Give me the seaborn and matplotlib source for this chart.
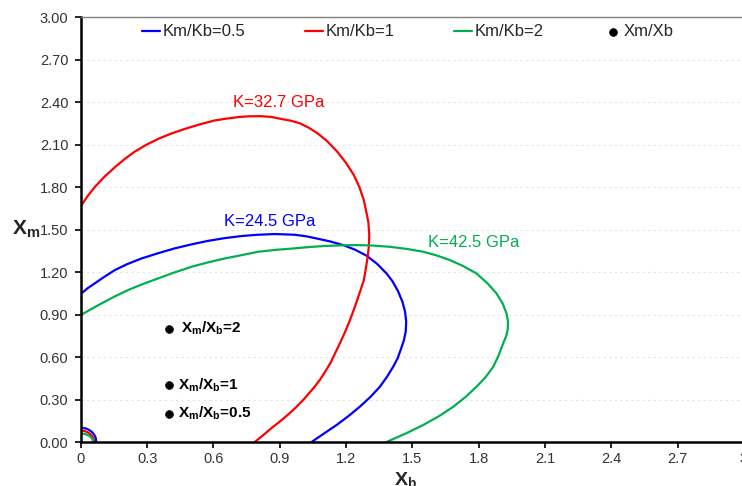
import matplotlib
matplotlib.use("Agg")
import matplotlib.pyplot as plt
import pandas as pd
import seaborn as sns

# curves (Xb, Xm)
blue_x = [0, 0.03, 0.063, 0.105, 0.154, 0.21, 0.275, 0.35, 0.425, 0.5, 0.576, 0.65, 0.727, 0.80,
          0.878, 0.968, 1.02, 1.066, 1.13, 1.187, 1.24, 1.293, 1.34, 1.383, 1.41, 1.435, 1.455,
          1.467, 1.472, 1.47, 1.462, 1.448, 1.433, 1.413, 1.385, 1.353, 1.31, 1.262, 1.21, 1.157,
          1.10, 1.044]
blue_y = [1.045, 1.085, 1.12, 1.165, 1.214, 1.256, 1.296, 1.333, 1.367, 1.395, 1.42, 1.439, 1.454,
          1.463, 1.468, 1.463, 1.452, 1.437, 1.415, 1.39, 1.358, 1.315, 1.258, 1.19, 1.135, 1.065,
          0.99, 0.92, 0.85, 0.78, 0.72, 0.655, 0.59, 0.531, 0.46, 0.39, 0.318, 0.249, 0.182, 0.12,
          0.06, 0]

red_x = [0, 0.03, 0.063, 0.105, 0.154, 0.2, 0.244, 0.295, 0.35, 0.41, 0.47, 0.54, 0.606, 0.66,
         0.72, 0.76, 0.81, 0.86, 0.908, 0.95, 0.99, 1.03, 1.07, 1.11, 1.16, 1.20, 1.235, 1.26,
         1.28, 1.293, 1.301, 1.305, 1.303, 1.298, 1.29, 1.28, 1.265, 1.25, 1.233, 1.215, 1.195,
         1.172, 1.15, 1.13, 1.105, 1.081, 1.055, 1.03, 1.003, 0.976, 0.948, 0.92, 0.895, 0.87,
         0.83, 0.787]
red_y = [1.665, 1.735, 1.80, 1.87, 1.94, 2.0, 2.05, 2.097, 2.14, 2.178, 2.21, 2.243, 2.27, 2.283,
         2.295, 2.299, 2.30, 2.295, 2.28, 2.268, 2.25, 2.22, 2.18, 2.13, 2.05, 1.97, 1.885, 1.80,
         1.71, 1.614, 1.55, 1.46, 1.38, 1.31, 1.23, 1.14, 1.07, 1.00, 0.925, 0.85, 0.775, 0.697,
         0.625, 0.56, 0.495, 0.4375, 0.385, 0.34, 0.292, 0.249, 0.208, 0.17, 0.138, 0.108, 0.055,
         0]

green_x = [0, 0.045, 0.094, 0.15, 0.214, 0.28, 0.35, 0.42, 0.5, 0.575, 0.652, 0.73, 0.802, 0.885,
           0.968, 1.03, 1.096, 1.17, 1.247, 1.32, 1.398, 1.475, 1.549, 1.61, 1.67, 1.73, 1.79,
           1.84, 1.88, 1.908, 1.926, 1.933, 1.932, 1.925, 1.911, 1.89, 1.866, 1.83, 1.79, 1.74,
           1.685, 1.62, 1.549, 1.47, 1.383]
green_y = [0.896, 0.937, 0.979, 1.025, 1.073, 1.115, 1.155, 1.195, 1.237, 1.268, 1.296, 1.32,
           1.343, 1.357, 1.367, 1.376, 1.383, 1.388, 1.39, 1.387, 1.378, 1.363, 1.343, 1.317,
           1.284, 1.242, 1.19, 1.12, 1.05, 0.98, 0.908, 0.85, 0.80, 0.75, 0.697, 0.61, 0.531,
           0.455, 0.39, 0.317, 0.249, 0.182, 0.12, 0.06, 0]

# the tiny arcs at the origin
small_blue_x = [0, 0.02, 0.035, 0.05, 0.061, 0.067, 0.07]
small_blue_y = [0.10, 0.097, 0.087, 0.071, 0.05, 0.03, 0]
small_red_x = [0, 0.017, 0.03, 0.042, 0.052, 0.057, 0.06]
small_red_y = [0.08, 0.078, 0.069, 0.057, 0.04, 0.024, 0]
small_green_x = [0, 0.015, 0.027, 0.039, 0.048, 0.053, 0.055]
small_green_y = [0.06, 0.058, 0.052, 0.043, 0.03, 0.018, 0]

ratio_x = [0.4, 0.4, 0.4]
ratio_y = [0.8, 0.4, 0.2]
ratio_labels = ["2", "1", "0.5"]
ratio_label_x = [0.455, 0.44, 0.44]

series_names = ["Km/Kb=0.5", "Km/Kb=1", "Km/Kb=2"]
k_labels = ["K=24.5 GPa", "K=32.7 GPa", "K=42.5 GPa"]
k_label_pos = [(0.647, 1.56), (0.688, 2.40), (1.57, 1.41)]
colors = ["#0000FF", "#FF0000", "#00B050"]

y_ticks = [0.0, 0.3, 0.6, 0.9, 1.2, 1.5, 1.8, 2.1, 2.4, 2.7, 3.0]
x_ticks = [0, 0.3, 0.6, 0.9, 1.2, 1.5, 1.8, 2.1, 2.4, 2.7, 3.0]
x_tick_labels = ["0", "0.3", "0.6", "0.9", "1.2", "1.5", "1.8", "2.1", "2.4", "2.7", "3"]

sns.set_style("white")
plt.rcParams['font.family'] = ['Liberation Sans', 'DejaVu Sans']
plt.rcParams['mathtext.fontset'] = 'custom'
plt.rcParams['mathtext.rm'] = 'Liberation Sans'
plt.rcParams['mathtext.it'] = 'Liberation Sans:italic'
plt.rcParams['mathtext.bf'] = 'Liberation Sans:bold'

fig = plt.figure(figsize=(7.42, 4.86), dpi=100)
ax = fig.add_axes([0.109, 0.0905, 0.8935, 0.8745])

big = [(blue_x, blue_y), (red_x, red_y), (green_x, green_y)]
small = [(small_blue_x, small_blue_y), (small_red_x, small_red_y), (small_green_x, small_green_y)]
for (bx, by), (sx, sy), name, col in zip(big, small, series_names, colors):
    df = pd.DataFrame({"xb": bx, "xm": by})
    sns.lineplot(data=df, x="xb", y="xm", sort=False, estimator=None, color=col,
                 linewidth=1.6, label=name, ax=ax)
    df_small = pd.DataFrame({"xb": sx, "xm": sy})
    sns.lineplot(data=df_small, x="xb", y="xm", sort=False, estimator=None, color=col,
                 linewidth=1.6, legend=False, ax=ax)

pts = pd.DataFrame({"xb": ratio_x, "xm": ratio_y})
sns.scatterplot(data=pts, x="xb", y="xm", color="black", s=32, edgecolor="black",
                label="Xm/Xb", ax=ax, zorder=5)

for lx, ly, lab in zip(ratio_label_x, ratio_y, ratio_labels):
    ax.text(lx, ly, r"$\mathbf{X_m/X_b}$=" + lab, fontsize=11, fontweight="bold",
            va="center", ha="left", color="black")

for (tx, ty), lab, col in zip(k_label_pos, k_labels, colors):
    ax.text(tx, ty, lab, fontsize=12, color=col, va="center", ha="left")

ax.set_xlim(0, 3.0)
ax.set_ylim(0, 3.0)
ax.set_yticks(y_ticks)
ax.set_yticklabels(["{:.2f}".format(v) for v in y_ticks])
ax.set_xticks(x_ticks)
ax.set_xticklabels(x_tick_labels)
ax.tick_params(axis="both", direction="out", length=4, width=1.2, color="black",
               labelsize=10.5, labelcolor="#333333", left=True, bottom=True)
ax.tick_params(axis="y", pad=5)
ax.yaxis.grid(True, linestyle=(0, (2, 3)), color="#E3E3E3", linewidth=0.8)
ax.xaxis.grid(False)

for side in ["left", "bottom"]:
    ax.spines[side].set_color("black")
    ax.spines[side].set_linewidth(1.8)
ax.spines["top"].set_color("#808080")
ax.spines["top"].set_linewidth(1.0)
ax.spines["right"].set_visible(False)

ax.set_xlabel(r"$\mathbf{X_b}$", fontsize=14)
ax.xaxis.set_label_coords(0.49, -0.066)
ax.set_ylabel(r"$\mathbf{X_m}$", fontsize=15, rotation=0, ha="center", va="center")
ax.yaxis.set_label_coords(-0.083, 0.50)

ax.legend(loc="center left", bbox_to_anchor=(0.092, 0.965), ncol=4, frameon=False,
          fontsize=12, handlelength=1.07, handletextpad=0.15, columnspacing=3.6,
          borderpad=0, borderaxespad=0)

fig.savefig("out.png", dpi=100)
